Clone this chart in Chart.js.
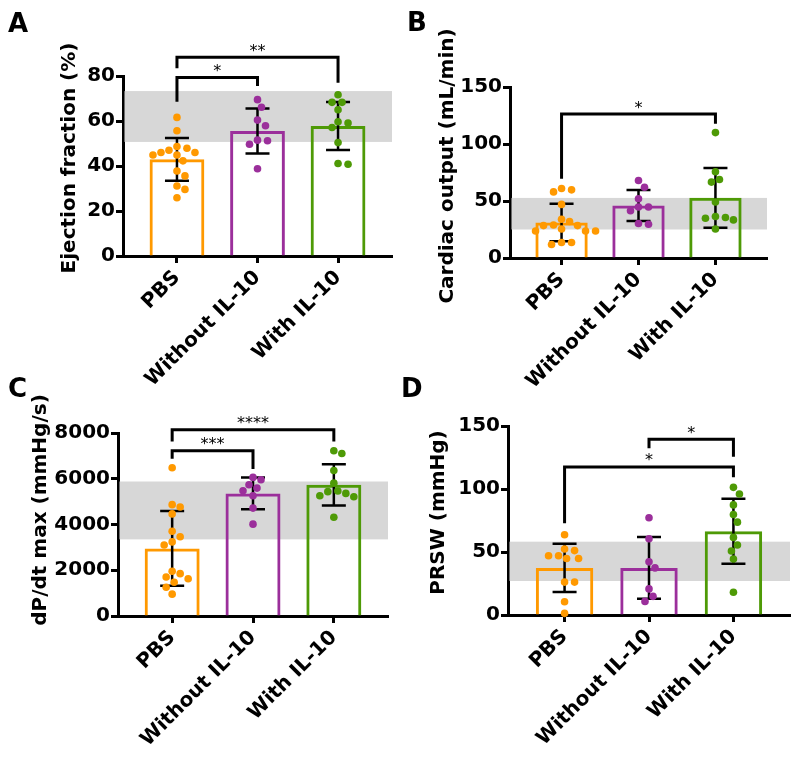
<!DOCTYPE html>
<html>
<head>
<meta charset="utf-8">
<script src="https://cdn.jsdelivr.net/npm/chart.js@4.4.0/dist/chart.umd.min.js"></script>
<style>
  body { margin: 0; background: #fff; }
  #wrap { position: relative; width: 800px; height: 761px; overflow: hidden; }
  canvas { position: absolute; }
</style>
</head>
<body>
<div id="wrap">
  <canvas id="panelA" width="400" height="400" style="left:0;top:0"></canvas>
  <canvas id="panelB" width="400" height="400" style="left:400px;top:0"></canvas>
  <canvas id="panelC" width="400" height="401" style="left:0;top:360px"></canvas>
  <canvas id="panelD" width="400" height="401" style="left:400px;top:360px"></canvas>
</div>
<script>
// groups on the x axis
const groups = ['PBS', 'Without IL-10', 'With IL-10'];

// A - ejection fraction (%)
const efPBS = [61.6, 55.7, 48.7, 47.9, 47.0, 46.0, 46.0, 44.9, 44.9, 42.3, 37.8, 35.6, 31.1, 29.6, 25.9];
const efWithout = [69.5, 66.1, 60.4, 57.9, 51.5, 51.2, 49.7, 38.8];
const efWith = [71.7, 68.3, 68.3, 65.0, 59.7, 59.1, 57.1, 50.4, 41.1, 40.8];
const efMean = [43.0, 55.6, 57.8];
const efSD = [9.5, 10.0, 10.7];
const efNormal = [50.7, 73.3];
const efTicks = [0, 20, 40, 60, 80];
const efSig = [['*', 0, 1], ['**', 0, 2]];

// B - cardiac output (mL/min)
const coPBS = [60.9, 59.8, 58.0, 47.0, 34.0, 32.0, 29.0, 28.4, 28.4, 25.4, 23.7, 23.7, 23.7, 13.6, 13.6, 11.8];
const coWithout = [68.0, 62.1, 52.0, 44.7, 44.7, 41.4, 30.2, 29.6];
const coWith = [110, 75.7, 68.9, 66.6, 49.1, 36.4, 35.5, 34.9, 33.4, 25.4];
const coMean = [31.2, 46.0, 52.8];
const coSD = [16.4, 13.6, 26.2];
const coNormal = [25.0, 52.7];
const coTicks = [0, 50, 100, 150];
const coSig = [['*', 0, 2]];

// C - dP/dt max (mmHg/s)
const dpPBS = [6480, 4867, 4763, 4464, 3703, 3464, 3240, 3105, 1956, 1851, 1702, 1627, 1478, 1254, 955];
const dpWithout = [6059, 5957, 5738, 5592, 5475, 5256, 4716, 4015];
const dpWith = [7226, 7107, 6360, 5808, 5464, 5435, 5360, 5255, 5211, 4315];
const dpMean = [2956, 5360, 5733];
const dpSD = [1630, 690, 900];
const dpNormal = [3350, 5880];
const dpTicks = [0, 2000, 4000, 6000, 8000];
const dpSig = [['****', 0, 2], ['***', 0, 1]];

// D - PRSW (mmHg)
const prPBS = [63.7, 52.4, 51.1, 47.0, 47.0, 44.9, 44.9, 26.1, 26.1, 10.5, 1.3];
const prWithout = [77.2, 60.5, 42.2, 37.4, 20.7, 14.8, 10.8];
const prWith = [101.3, 96.0, 87.4, 79.8, 73.7, 61.6, 55.6, 50.8, 44.4, 18.0];
const prMean = [37.4, 37.4, 66.4];
const prSD = [19.2, 24.6, 25.8];
const prNormal = [27.0, 58.2];
const prTicks = [0, 50, 100, 150];
const prSig = [['*', 1, 2], ['*', 0, 2]];

const colors = ['#ff9900', '#9b2f9b', '#4e9a06'];
const FONT = "'DejaVu Sans', 'Liberation Sans', sans-serif";
Chart.defaults.font.family = FONT;
Chart.defaults.color = '#000';

// panel layout: chart area in canvas px, bracket heights [bar, left leg end, right leg end]
const panels = [
  { id: 'panelA', letter: 'A', title: 'Ejection fraction (%)', dots: [efPBS, efWithout, efWith],
    mean: efMean, sd: efSD, normal: efNormal, yTicks: efTicks, sig: efSig,
    brackets: [[79.3, 68.6, 75.6], [88.3, 83.4, 77.0]],
    size: [400, 400], area: { left: 123, right: 392, top: 76, bottom: 256 }, titleAt: [70, 158], letterAt: [8, 32] },
  { id: 'panelB', letter: 'B', title: 'Cardiac output (mL/min)', dots: [coPBS, coWithout, coWith],
    mean: coMean, sd: coSD, normal: coNormal, yTicks: coTicks, sig: coSig,
    brackets: [[126.3, 69.6, 117.8]],
    size: [400, 400], area: { left: 110, right: 367, top: 87, bottom: 258 }, titleAt: [47.5, 166], letterAt: [7, 31] },
  { id: 'panelC', letter: 'C', title: 'dP/dt max (mmHg/s)', dots: [dpPBS, dpWithout, dpWith],
    mean: dpMean, sd: dpSD, normal: dpNormal, yTicks: dpTicks, sig: dpSig,
    brackets: [[8144, 7632, 7632], [7225, 6875, 6424]],
    size: [400, 401], area: { left: 118, right: 388, top: 73, bottom: 256 }, titleAt: [41, 150], letterAt: [8, 37] },
  { id: 'panelD', letter: 'D', title: 'PRSW (mmHg)', dots: [prPBS, prWithout, prWith],
    mean: prMean, sd: prSD, normal: prNormal, yTicks: prTicks, sig: prSig,
    brackets: [[139.4, 132.3, 125.6], [117.5, 72.8, 109.3]],
    size: [400, 401], area: { left: 108, right: 390, top: 66, bottom: 255 }, titleAt: [39, 152.5], letterAt: [1, 37] }
];

const X_MIN = -0.67, X_MAX = 2.67;

// simple beeswarm so points of a group don't overlap
function swarm(values, group, pxY, pxX) {
  const d = 8.3, step = 2;
  const placed = [];
  const xs = [];
  const order = values.map((v, i) => i).sort((a, b) => values[b] - values[a]);
  order.forEach(i => {
    const py = values[i] * pxY;
    for (let k = 0; k < 400; k++) {
      const off = (k % 2 ? 1 : -1) * Math.ceil(k / 2) * step;
      if (placed.every(p => Math.hypot(p[0] - off, p[1] - py) >= d)) {
        placed.push([off, py]);
        xs[i] = group + off / pxX;
        break;
      }
    }
  });
  return values.map((v, i) => ({ x: xs[i], y: v }));
}

const decor = {
  id: 'decor',
  beforeDatasetsDraw(chart, args, o) {
    const { ctx, chartArea: a, scales: { y } } = chart;
    const top = y.getPixelForValue(o.normal[1]);
    const bot = y.getPixelForValue(o.normal[0]);
    ctx.save();
    ctx.fillStyle = '#d7d7d7';
    ctx.fillRect(a.left + 1.5, top, a.right - a.left - 1.5, bot - top);
    ctx.restore();
  },
  afterDatasetDraw(chart, args, o) {
    if (args.meta.type !== 'bar') return;
    const { ctx, scales: { x, y } } = chart;
    ctx.save();
    ctx.strokeStyle = '#000';
    ctx.lineWidth = 2.5;
    o.mean.forEach((m, i) => {
      const px = x.getPixelForValue(i);
      const hi = y.getPixelForValue(m + o.sd[i]);
      const lo = y.getPixelForValue(m - o.sd[i]);
      ctx.beginPath();
      ctx.moveTo(px, hi); ctx.lineTo(px, lo);
      ctx.moveTo(px - 12, hi); ctx.lineTo(px + 12, hi);
      ctx.moveTo(px - 12, lo); ctx.lineTo(px + 12, lo);
      ctx.stroke();
    });
    ctx.restore();
  },
  afterDraw(chart, args, o) {
    const { ctx, scales: { x, y } } = chart;
    ctx.save();
    ctx.strokeStyle = '#000';
    ctx.fillStyle = '#000';
    ctx.lineWidth = 3;
    o.sig.forEach((s, k) => {
      const b = o.brackets[k];
      const xa = x.getPixelForValue(s[1]), xb = x.getPixelForValue(s[2]);
      const yy = y.getPixelForValue(b[0]);
      ctx.beginPath();
      ctx.moveTo(xa, y.getPixelForValue(b[1]));
      ctx.lineTo(xa, yy);
      ctx.lineTo(xb, yy);
      ctx.lineTo(xb, y.getPixelForValue(b[2]));
      ctx.stroke();
      ctx.font = '16px ' + FONT;
      ctx.textAlign = 'center';
      ctx.textBaseline = 'alphabetic';
      ctx.fillText(s[0], (xa + xb) / 2, yy - 1.5);
    });
    // y axis title
    ctx.translate(o.titleAt[0], o.titleAt[1]);
    ctx.rotate(-Math.PI / 2);
    ctx.font = 'bold 20px ' + FONT;
    ctx.textAlign = 'center';
    ctx.textBaseline = 'middle';
    ctx.fillText(o.title, 0, 0);
    ctx.restore();
    // panel letter
    ctx.save();
    ctx.fillStyle = '#000';
    ctx.font = 'bold 26px ' + FONT;
    ctx.textAlign = 'left';
    ctx.textBaseline = 'alphabetic';
    ctx.fillText(o.letter, o.letterAt[0], o.letterAt[1]);
    ctx.restore();
  }
};

function makeChart(p) {
  const W = p.size[0], H = p.size[1], a = p.area;
  const yMax = p.yTicks[p.yTicks.length - 1];
  const pxY = (a.bottom - a.top) / yMax;
  const pxX = (a.right - a.left) / (X_MAX - X_MIN);

  const datasets = p.dots.map((vals, g) => ({
    type: 'scatter',
    data: swarm(vals, g, pxY, pxX),
    backgroundColor: colors[g],
    borderWidth: 0,
    pointRadius: 3.8,
    pointHoverRadius: 3.8,
    clip: false,
    order: 0
  }));
  datasets.push({
    type: 'bar',
    data: p.mean.map((m, i) => ({ x: i, y: m })),
    backgroundColor: 'rgba(0,0,0,0)',
    borderColor: colors,
    borderWidth: 3,
    borderSkipped: 'start',
    barPercentage: 0.68,
    categoryPercentage: 1,
    order: 1
  });

  const axisGrid = { drawOnChartArea: false, drawTicks: true, tickLength: 7, tickWidth: 3, tickColor: '#000', offset: false };
  const axisBorder = { display: true, width: 3, color: '#000' };
  const tickFont = { family: FONT, size: 20, weight: 'bold' };

  new Chart(document.getElementById(p.id), {
    type: 'bar',
    data: { datasets },
    options: {
      responsive: false,
      animation: false,
      events: [],
      layout: { padding: { left: 0, top: a.top, right: W - a.right, bottom: 0 } },
      plugins: {
        legend: { display: false },
        tooltip: { enabled: false },
        decor: {
          mean: p.mean, sd: p.sd, normal: p.normal, sig: p.sig, brackets: p.brackets,
          title: p.title, titleAt: p.titleAt, letter: p.letter, letterAt: p.letterAt
        }
      },
      scales: {
        x: {
          type: 'linear', min: X_MIN, max: X_MAX, offset: false,
          afterBuildTicks: s => { s.ticks = groups.map((g, i) => ({ value: i })); },
          afterFit: s => { s.height = H - a.bottom; },
          grid: axisGrid, border: axisBorder,
          ticks: { autoSkip: false, minRotation: 45, maxRotation: 45, padding: 3, color: '#000',
                   font: tickFont, callback: v => groups[v] }
        },
        y: {
          min: 0, max: yMax,
          afterBuildTicks: s => { s.ticks = p.yTicks.map(v => ({ value: v })); },
          afterFit: s => { s.width = a.left; },
          grid: axisGrid, border: axisBorder,
          ticks: { padding: 1, color: '#000', font: tickFont, callback: v => String(v) }
        }
      }
    },
    plugins: [decor]
  });
}

panels.forEach(makeChart);
</script>
</body>
</html>
